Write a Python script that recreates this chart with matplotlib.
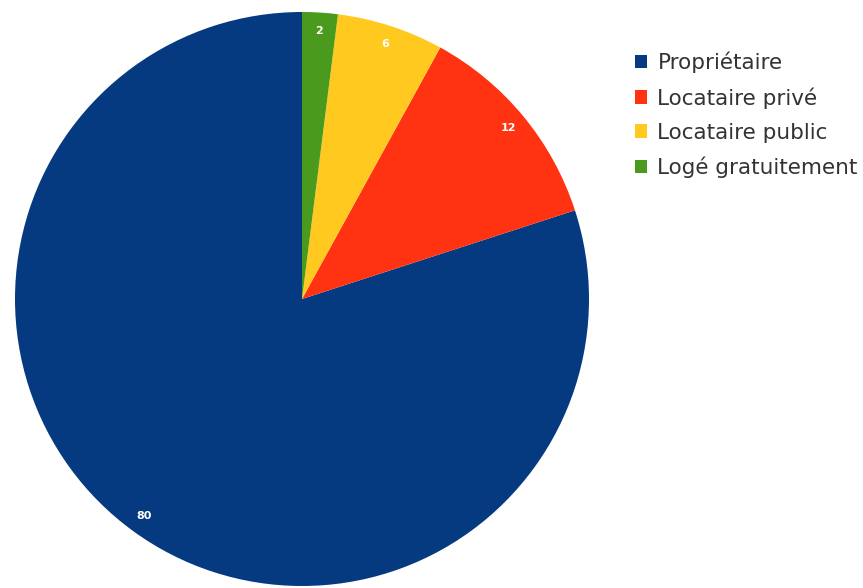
import matplotlib.pyplot as plt

# Statut d'occupation du logement (%)
labels = ['Propriétaire', 'Locataire privé', 'Locataire public', 'Logé gratuitement']
values = [80, 12, 6, 2]
colors = ['#063a80', '#ff3312', '#ffc91f', '#4a9a1e']

fig = plt.figure(figsize=(8.63, 5.88), dpi=100)

# pie area: 574 px square, centred at (302, 299) from the top-left corner
r_px = 287
cx, cy = 302, 299
ax = fig.add_axes([(cx - r_px) / 863, (588 - cy - r_px) / 588,
                   2 * r_px / 863, 2 * r_px / 588])

wedges, texts = ax.pie(values, colors=colors, startangle=90,
                       counterclock=True, labels=[str(v) for v in values],
                       labeldistance=0.935,
                       textprops=dict(color='white', fontsize=8, fontweight='bold',
                                      ha='center', va='center'),
                       wedgeprops=dict(linewidth=0))
ax.set_xlim(-1, 1)
ax.set_ylim(-1, 1)
ax.set_aspect('equal')

fig.legend(wedges, labels, loc='upper left',
           bbox_to_anchor=(626 / 863, 1 - 43 / 588),
           frameon=False, fontsize=15.5, handlelength=0.56, handleheight=0.56,
           handletextpad=0.5, labelspacing=0.65, borderaxespad=0,
           labelcolor='#333333')

fig.savefig('out.png', dpi=100)
